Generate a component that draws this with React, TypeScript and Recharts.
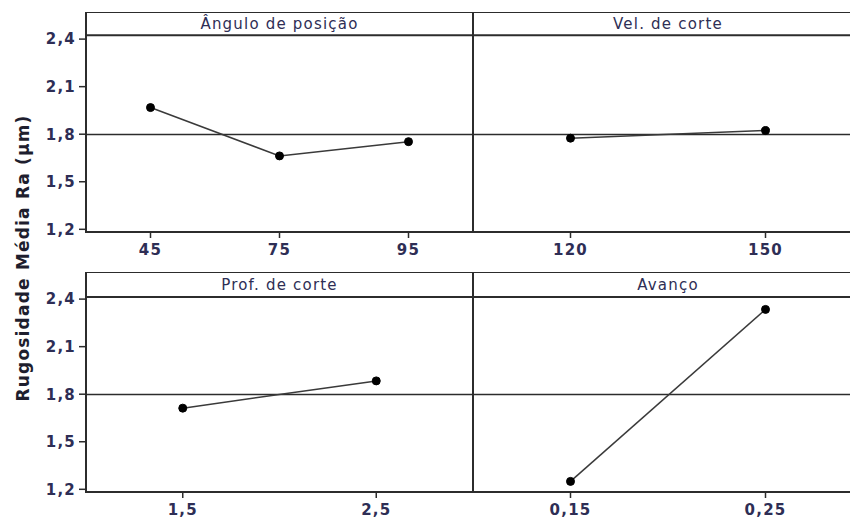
import React from 'react';
import { LineChart, Line, XAxis, YAxis, ReferenceLine, ReferenceArea } from 'recharts';

// Main effects of each cutting parameter on mean roughness Ra
const anguloLevels = ['45', '75', '95'];
const anguloMeans = [1.968, 1.663, 1.753];

const velLevels = ['120', '150'];
const velMeans = [1.775, 1.823];

const profLevels = ['1,5', '2,5'];
const profMeans = [1.712, 1.884];

const avancoLevels = ['0,15', '0,25'];
const avancoMeans = [1.25, 2.335];

const yTicks = [1.2, 1.5, 1.8, 2.1, 2.4];
const grandMean = 1.798;

const Y_MIN = 1.183;
const Y_MAX = 2.571;

const FONT = '"DejaVu Sans", Verdana, sans-serif';
const INK = '#2c2c2c';
const TEXT = '#2e2e55';

const fmt = (v: number) => v.toFixed(1).replace('.', ',');

const tickStyle = { fontSize: 15, fontWeight: 'bold', fill: TEXT, fontFamily: FONT, letterSpacing: 1.2 };

interface PanelProps {
  title: string;
  levels: string[];
  means: number[];
  left: number;
  top: number;
  width: number;
  showY: boolean;
  headerY: number;
}

function EffectPanel({ title, levels, means, left, top, width, showY, headerY }: PanelProps) {
  const data = levels.map((level, i) => ({ pos: i, level, mean: means[i] }));
  const n = levels.length;

  return (
    <div style={{ position: 'absolute', left, top }}>
      <LineChart width={width} height={254} data={data} margin={{ top: 0, right: 0, bottom: 0, left: 0 }}>
        <XAxis
          type="number"
          dataKey="pos"
          domain={[-0.5, n - 0.5]}
          ticks={data.map((d) => d.pos)}
          tickFormatter={(i: number) => levels[i] ?? ''}
          interval={0}
          allowDataOverflow
          axisLine={false}
          tickSize={6}
          tickMargin={6}
          tickLine={{ stroke: INK, strokeWidth: 1.5 }}
          tick={tickStyle}
          height={34}
        />
        <YAxis
          type="number"
          domain={[Y_MIN, Y_MAX]}
          ticks={yTicks}
          allowDataOverflow
          hide={!showY}
          width={86}
          axisLine={false}
          tickSize={7}
          tickMargin={3}
          tickFormatter={fmt}
          tickLine={{ stroke: INK, strokeWidth: 1.5 }}
          tick={tickStyle}
        />

        {/* title strip */}
        <ReferenceArea
          x1={-0.5}
          x2={n - 0.5}
          y1={headerY}
          y2={Y_MAX}
          fill="none"
          stroke="none"
          label={{ value: title, position: 'center', fill: TEXT, fontSize: 15, fontFamily: FONT, letterSpacing: 1.2 }}
        />
        <ReferenceLine y={headerY} stroke={INK} strokeWidth={2} />

        {/* overall mean */}
        <ReferenceLine y={grandMean} stroke={INK} strokeWidth={1.5} />

        {/* panel frame */}
        <ReferenceArea
          x1={-0.5}
          x2={n - 0.5}
          y1={Y_MIN}
          y2={Y_MAX}
          ifOverflow="visible"
          fill="none"
          fillOpacity={0}
          stroke={INK}
          strokeOpacity={1}
          strokeWidth={2}
        />

        <Line
          type="linear"
          dataKey="mean"
          stroke="#3a3a3a"
          strokeWidth={1.5}
          dot={{ r: 4, fill: '#000', stroke: '#000', strokeWidth: 1 }}
          isAnimationActive={false}
        />
      </LineChart>
    </div>
  );
}

export default function App() {
  return (
    <div
      style={{
        position: 'absolute',
        left: 0,
        top: 0,
        width: 850,
        height: 524,
        overflow: 'hidden',
        background: '#fff',
        fontFamily: FONT,
      }}
    >
      <EffectPanel title="Ângulo de posição" levels={anguloLevels} means={anguloMeans}
        left={0} top={12} width={473} showY headerY={2.425} />
      <EffectPanel title="Vel. de corte" levels={velLevels} means={velMeans}
        left={473} top={12} width={390} showY={false} headerY={2.425} />
      <EffectPanel title="Prof. de corte" levels={profLevels} means={profMeans}
        left={0} top={272} width={473} showY headerY={2.413} />
      <EffectPanel title="Avanço" levels={avancoLevels} means={avancoMeans}
        left={473} top={272} width={390} showY={false} headerY={2.413} />

      <svg width={44} height={524} style={{ position: 'absolute', left: 0, top: 0 }}>
        <text
          transform="translate(23,258) rotate(-90)"
          textAnchor="middle"
          dominantBaseline="central"
          fontFamily={FONT}
          fontWeight="bold"
          fontSize={17}
          letterSpacing={1.2}
          fill="#1e1e2e"
        >
          Rugosidade Média Ra (µm)
        </text>
      </svg>
    </div>
  );
}
